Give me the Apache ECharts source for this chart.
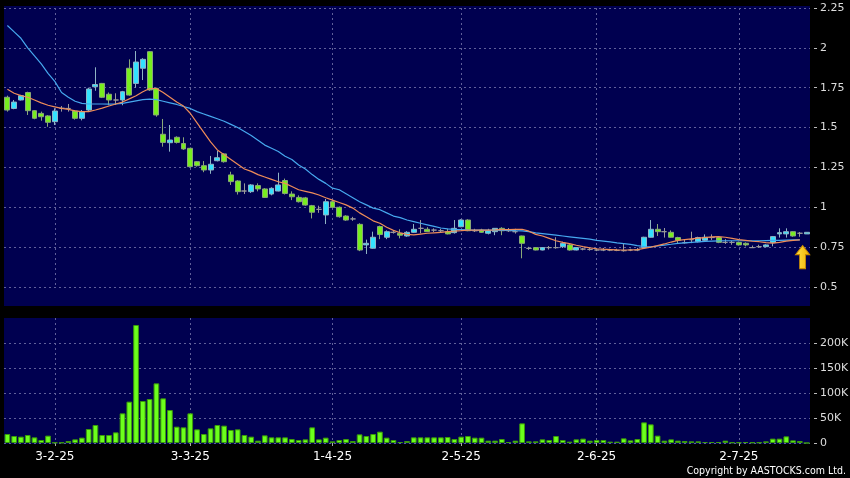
<!DOCTYPE html>
<html><head><meta charset="utf-8">
<script src="https://cdn.jsdelivr.net/npm/echarts@6.0.0/dist/echarts.min.js"></script>
<style>html,body{margin:0;padding:0;background:#000;}#c{width:850px;height:478px;}</style>
</head><body><div id="c"></div>
<script>
// Trading days (HK), Jan 20 2025 .. Jul 16 2025
const tradingDays = [
  ['2025-01', [20,21,22,23,24,27,28]],
  ['2025-02', [3,4,5,6,7,10,11,12,13,14,17,18,19,20,21,24,25,26,27,28]],
  ['2025-03', [3,4,5,6,7,10,11,12,13,14,17,18,19,20,21,24,25,26,27,28,31]],
  ['2025-04', [1,2,3,7,8,9,10,11,14,15,16,17,22,23,24,25,28,29,30]],
  ['2025-05', [2,6,7,8,9,12,13,14,15,16,19,20,21,22,23,26,27,28,29,30]],
  ['2025-06', [2,3,4,5,6,9,10,11,12,13,16,17,18,19,20,23,24,25,26,27,30]],
  ['2025-07', [2,3,4,7,8,9,10,11,14,15,16]]
];
const categories = [];
tradingDays.forEach(([ym, days]) => days.forEach(d => categories.push(ym + '-' + String(d).padStart(2,'0'))));

const labelIdx = [7, 27, 48, 67, 87, 108];

const openP = [1.69,1.62,1.673,1.72,1.606,1.589,1.573,1.537,1.621,1.62,
1.604,1.558,1.61,1.756,1.777,1.709,1.673,1.673,1.872,1.777,
1.872,1.976,1.746,1.458,1.405,1.439,1.40,1.37,1.286,1.261,
1.234,1.292,1.335,1.203,1.165,1.102,1.098,1.136,1.115,1.083,
1.102,1.168,1.083,1.062,1.059,1.010,0.987,0.952,1.035,1.000,
0.945,0.927,0.893,0.764,0.743,0.879,0.812,0.843,0.837,0.820,
0.843,0.868,0.862,0.857,0.853,0.847,0.841,0.878,0.920,0.853,
0.857,0.837,0.847,0.868,0.853,0.847,0.820,0.742,0.747,0.732,
0.747,0.747,0.753,0.764,0.732,0.738,0.735,0.732,0.732,0.732,
0.730,0.728,0.732,0.732,0.747,0.812,0.862,0.847,0.843,0.810,
0.778,0.797,0.784,0.793,0.810,0.810,0.780,0.780,0.780,0.774,
0.747,0.753,0.753,0.778,0.833,0.833,0.847,0.837,0.833];

const closeP = [1.61,1.66,1.70,1.606,1.558,1.568,1.533,1.604,1.621,1.62,
1.558,1.60,1.742,1.77,1.69,1.673,1.673,1.725,1.704,1.911,
1.928,1.736,1.579,1.407,1.422,1.407,1.366,1.255,1.261,1.234,
1.27,1.311,1.286,1.161,1.098,1.102,1.14,1.115,1.062,1.119,
1.14,1.087,1.066,1.035,1.014,0.969,0.987,1.035,1.000,0.941,
0.920,0.927,0.732,0.774,0.812,0.829,0.847,0.843,0.825,0.843,
0.862,0.868,0.847,0.857,0.853,0.833,0.868,0.920,0.853,0.853,
0.843,0.853,0.868,0.853,0.853,0.847,0.774,0.742,0.732,0.747,
0.747,0.747,0.774,0.732,0.747,0.738,0.735,0.732,0.732,0.732,
0.730,0.728,0.732,0.732,0.812,0.862,0.847,0.847,0.812,0.793,
0.778,0.797,0.810,0.812,0.810,0.780,0.780,0.780,0.764,0.764,
0.747,0.753,0.764,0.816,0.841,0.847,0.820,0.837,0.843];

const lowP = [1.60,1.615,1.67,1.579,1.552,1.543,1.505,1.516,1.60,1.60,
1.55,1.545,1.60,1.731,1.685,1.64,1.642,1.64,1.70,1.75,
1.798,1.73,1.568,1.38,1.349,1.40,1.36,1.25,1.255,1.22,
1.21,1.288,1.28,1.14,1.08,1.083,1.09,1.10,1.06,1.075,
1.10,1.08,1.045,1.03,1.01,0.93,0.965,0.895,0.995,0.935,
0.915,0.915,0.725,0.707,0.74,0.80,0.80,0.835,0.805,0.815,
0.84,0.837,0.845,0.845,0.84,0.83,0.835,0.875,0.85,0.845,
0.84,0.83,0.825,0.825,0.845,0.835,0.68,0.733,0.73,0.73,
0.735,0.74,0.745,0.728,0.73,0.73,0.728,0.725,0.725,0.725,
0.725,0.722,0.725,0.725,0.745,0.81,0.82,0.81,0.81,0.77,
0.772,0.775,0.78,0.79,0.795,0.775,0.77,0.765,0.76,0.755,
0.745,0.745,0.75,0.755,0.81,0.81,0.815,0.815,0.833];

const highP = [1.70,1.673,1.705,1.725,1.61,1.60,1.578,1.621,1.635,1.648,
1.61,1.61,1.75,1.878,1.78,1.72,1.715,1.73,1.928,1.98,
1.935,1.98,1.75,1.554,1.516,1.445,1.439,1.375,1.29,1.29,
1.322,1.353,1.34,1.223,1.17,1.15,1.145,1.15,1.12,1.125,
1.217,1.18,1.10,1.075,1.065,1.015,1.01,1.052,1.045,1.005,
0.95,0.94,0.90,0.797,0.847,0.885,0.855,0.855,0.862,0.85,
0.895,0.92,0.875,0.868,0.865,0.865,0.92,0.925,0.925,0.865,
0.865,0.865,0.87,0.875,0.87,0.865,0.822,0.752,0.75,0.75,
0.757,0.812,0.784,0.772,0.75,0.745,0.745,0.745,0.745,0.74,
0.74,0.77,0.74,0.745,0.815,0.92,0.895,0.87,0.855,0.815,
0.80,0.847,0.815,0.83,0.83,0.815,0.80,0.79,0.785,0.78,
0.76,0.765,0.768,0.82,0.868,0.868,0.85,0.845,0.843];

const volume = [18000,14000,12700,16000,11300,6000,14700,1000,1000,4000,
7300,10700,28000,36000,16000,16000,21300,59300,82700,236000,
84000,88000,119300,89300,66000,32700,31300,59300,27300,18000,
29300,36000,34700,26000,27300,16000,12700,4700,15300,11300,
11300,11300,8000,6000,7300,31300,7300,10700,3300,6000,
8000,4000,17300,14000,18000,22700,10700,6000,2000,4000,
11300,11300,11300,11300,11300,12000,8000,12700,14000,10700,
10700,4700,4700,8000,2000,4700,39300,3300,3300,7300,
6000,14000,6000,2700,7300,8700,4700,6000,6000,2700,
2700,9300,5300,8000,41300,37300,14700,4700,7300,4700,
4000,3300,3300,2000,2000,2000,4700,1300,1300,2000,
1300,1300,3300,8700,8700,13300,5300,4000,0];

const maShort = [1.74,1.715,1.70,1.69,1.673,1.655,1.64,1.63,1.62,1.614,
1.605,1.60,1.60,1.61,1.622,1.635,1.648,1.66,1.68,1.70,
1.725,1.745,1.745,1.72,1.69,1.66,1.635,1.59,1.53,1.47,
1.41,1.36,1.33,1.30,1.27,1.24,1.225,1.205,1.19,1.175,
1.16,1.15,1.13,1.11,1.10,1.09,1.077,1.06,1.045,1.03,
1.015,0.995,0.965,0.94,0.915,0.90,0.875,0.855,0.84,0.83,
0.827,0.832,0.837,0.84,0.843,0.847,0.85,0.853,0.857,0.857,
0.857,0.857,0.858,0.86,0.86,0.862,0.862,0.85,0.83,0.82,
0.805,0.79,0.78,0.772,0.762,0.753,0.745,0.74,0.737,0.735,
0.733,0.732,0.732,0.735,0.742,0.75,0.76,0.77,0.782,0.792,
0.797,0.802,0.806,0.81,0.814,0.816,0.812,0.805,0.797,0.792,
0.787,0.784,0.778,0.775,0.78,0.788,0.792,0.795,'-'];

const maLong = [2.14,2.10,2.06,2.00,1.95,1.90,1.84,1.79,1.72,1.69,
1.665,1.652,1.648,1.648,1.648,1.647,1.648,1.652,1.66,1.668,
1.675,1.678,1.675,1.665,1.655,1.645,1.632,1.62,1.60,1.585,
1.57,1.555,1.54,1.52,1.50,1.475,1.45,1.42,1.39,1.37,
1.35,1.32,1.30,1.265,1.24,1.205,1.175,1.15,1.12,1.11,
1.085,1.06,1.035,1.015,0.995,0.985,0.965,0.945,0.935,0.92,
0.91,0.90,0.89,0.88,0.87,0.865,0.862,0.86,0.858,0.857,
0.857,0.857,0.856,0.855,0.855,0.853,0.852,0.847,0.84,0.835,
0.83,0.825,0.82,0.815,0.81,0.805,0.80,0.793,0.788,0.783,
0.777,0.772,0.767,0.76,0.754,0.752,0.757,0.763,0.768,0.774,
0.777,0.78,0.783,0.786,0.788,0.789,0.79,0.79,0.79,0.79,
0.79,0.79,0.791,0.792,0.793,0.794,0.795,0.796,'-'];

const priceTicks = {min: 0.5, max: 2.25, step: 0.25};
const volTicks = {min: 0, max: 250000, step: 50000};
const volLabelValues = [0, 50000, 100000, 150000, 200000];

const candleData = categories.map((c, i) => [openP[i], closeP[i], lowP[i], highP[i]]);

const gridLine = {color: '#60609a', type: [2, 3], width: 1};
const font = 'DejaVu Sans';
const isLabel = (i) => labelIdx.indexOf(i) >= 0;

const chart = echarts.init(document.getElementById('c'), null, {renderer: 'canvas'});
chart.setOption({
  backgroundColor: '#000000',
  animation: false,
  graphic: [
    {type: 'rect', z: -100, shape: {x: 4, y: 6, width: 806, height: 300}, style: {fill: '#000050'}},
    {type: 'rect', z: -100, shape: {x: 4, y: 318, width: 806, height: 126}, style: {fill: '#000050'}},
    {type: 'text', x: 846, y: 471, scaleX: 0.86, style: {text: 'Copyright by AASTOCKS.com Ltd.', fill: '#ffffff', font: '11px "DejaVu Sans"', align: 'right', verticalAlign: 'middle'}}
  ],
  grid: [
    {left: 4, right: 40, top: 8, height: 279, outerBoundsMode: 'none', containLabel: false},
    {left: 4, right: 40, top: 318, height: 125, outerBoundsMode: 'none', containLabel: false}
  ],
  xAxis: [
    {type: 'category', gridIndex: 0, data: categories, boundaryGap: true,
     axisLine: {show: false}, axisTick: {show: false}, axisLabel: {show: false},
     splitLine: {show: true, interval: (i) => isLabel(i), alignWithLabel: true, lineStyle: gridLine}},
    {type: 'category', gridIndex: 1, data: categories, boundaryGap: true, offset: 3,
     axisLine: {show: false},
     axisTick: {show: true, interval: (i) => isLabel(i), alignWithLabel: true, length: 3, lineStyle: {color: '#aaaaaa'}},
     axisLabel: {show: true, interval: (i) => isLabel(i), margin: 5, color: '#ffffff', fontFamily: font, fontSize: 12,
       formatter: (v) => { const p = v.split('-'); return (+p[2]) + '-' + (+p[1]) + '-' + p[0].slice(2); }},
     splitLine: {show: true, interval: (i) => isLabel(i), alignWithLabel: true, lineStyle: gridLine}}
  ],
  yAxis: [
    {type: 'value', gridIndex: 0, position: 'right', min: priceTicks.min, max: priceTicks.max, interval: priceTicks.step, offset: 4,
     axisLine: {show: false}, axisTick: {show: true, length: 3, lineStyle: {color: '#bbbbbb'}},
     axisLabel: {margin: 6, color: '#dddddd', fontFamily: font, fontSize: 11},
     splitLine: {show: true, lineStyle: gridLine}},
    {type: 'value', gridIndex: 1, position: 'right', min: volTicks.min, max: volTicks.max, interval: volTicks.step, offset: 4,
     axisLine: {show: false},
     axisTick: {show: true, length: 3, customValues: volLabelValues, lineStyle: {color: '#bbbbbb'}},
     axisLabel: {margin: 6, color: '#dddddd', fontFamily: font, fontSize: 11, customValues: volLabelValues,
       formatter: (v) => v >= volTicks.max ? '' : (v === 0 ? '0' : (v / 1000) + 'K')},
     splitLine: {show: true, lineStyle: {color: ['#60609a','#60609a','#60609a','#60609a','#60609a','rgba(0,0,0,0)'], type: [2, 3], width: 1}}}
  ],
  series: [
    {type: 'candlestick', xAxisIndex: 0, yAxisIndex: 0, data: candleData, barWidth: '80%',
     itemStyle: {color: '#33e2ff', color0: '#78ee1e', borderColor: '#8fb4c4', borderColor0: '#8aa878', borderColorDoji: '#9a9a9a', borderWidth: 1},
     markPoint: {
       symbol: 'path://M7,0 L14,9 L10,9 L10,23 L4,23 L4,9 L0,9 Z',
       symbolSize: [14, 23], symbolOffset: [-4, 0], silent: true,
       label: {show: false},
       itemStyle: {color: new echarts.graphic.LinearGradient(0, 0, 1, 0, [{offset: 0, color: '#ffe24a'}, {offset: 1, color: '#f2b000'}]), borderColor: '#c98a00', borderWidth: 1},
       data: [{coord: [118, 0.688]}]
     }},
    {type: 'line', xAxisIndex: 0, yAxisIndex: 0, data: maLong, symbol: 'none', smooth: false,
     lineStyle: {color: '#46a8ee', width: 1.2}, z: 3},
    {type: 'line', xAxisIndex: 0, yAxisIndex: 0, data: maShort, symbol: 'none', smooth: false,
     lineStyle: {color: '#ee8c58', width: 1.2}, z: 3},
    {type: 'bar', xAxisIndex: 1, yAxisIndex: 1, data: volume, barWidth: '84%',
     itemStyle: {color: '#6cff1c', borderColor: '#3b9a0a', borderWidth: 1}}
  ]
});
</script>
</body></html>
